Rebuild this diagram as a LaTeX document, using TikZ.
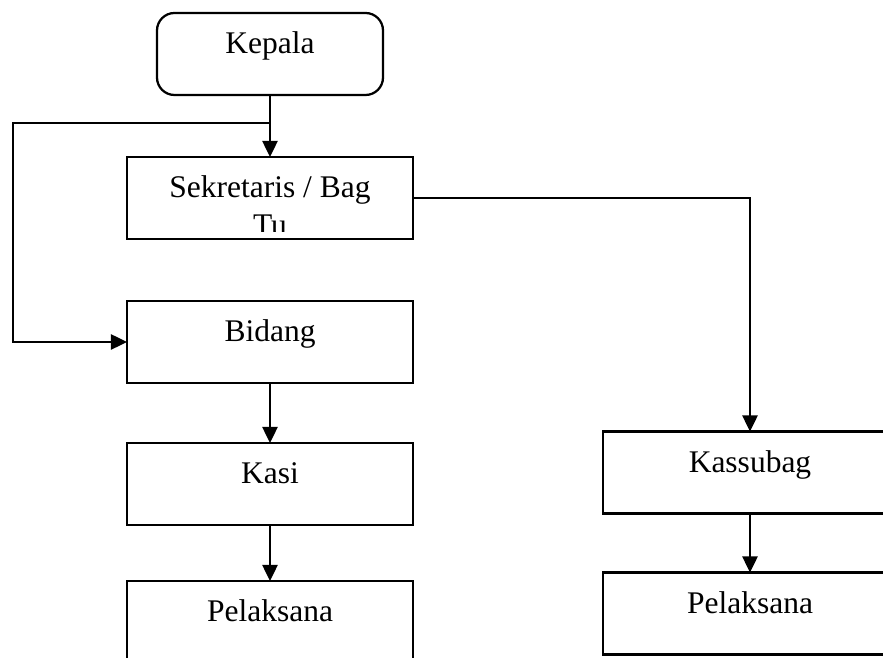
\documentclass[tikz,border=0pt]{standalone}
\usepackage{fontspec}
\setmainfont{Liberation Serif}
\usetikzlibrary{arrows.meta,positioning,calc}

\begin{document}
\begin{tikzpicture}[
    x=0.4pt, y=-0.4pt,
    font=\fontsize{12.6}{14.5}\selectfont,
    node distance=24.8pt and 76pt,
    box/.style={draw, line width=0.9pt, outer sep=0pt, minimum width=114.4pt, minimum height=32.8pt, inner ysep=0pt, text height=8pt, text depth=8pt, align=center},
    rbox/.style={box, rounded corners=7pt, minimum width=90.4pt},
    wbox/.style={box, minimum width=117.6pt},
    arr/.style={-{Triangle[length=6.4pt, width=6pt]}, line width=1pt}
]
\useasboundingbox (0,0) rectangle (883,658);
\clip (0,0) rectangle (883,658);

\node[rbox] (kepala) at (270,54) {Kepala};
\node[box, below=of kepala] (sek) {Sekretaris / Bag};
\node[box, below=of sek] (bid) {Bidang};
\node[box, below=24pt of bid] (kasi) {Kasi};
\node[box, below=22.4pt of kasi] (pel) {Pelaksana};

\node[wbox, right=of kasi, yshift=4.6pt] (kasub) {Kassubag};
\node[wbox, below=23.6pt of kasub] (pelb) {Pelaksana};

% second line of the secretary box, cut by the frame
\begin{scope}
  \clip ([yshift=2.8pt]sek.south west) rectangle (sek.north east);
  \node[anchor=base, inner sep=0pt] (tu) at ([yshift=-15pt]sek.base) {Tu};
\end{scope}

\coordinate (br) at ($(kepala.south)!0.45!(sek.north)$);

\draw[arr] (kepala) -- (sek);
\draw[arr] (br) -| ([xshift=-45.6pt]bid.west) -- (bid.west);
\draw[arr] (sek.east) -| (kasub.north);
\draw[arr] (bid) -- (kasi);
\draw[arr] (kasi) -- (pel);
\draw[arr] (kasub) -- (pelb);
\end{tikzpicture}
\end{document}
